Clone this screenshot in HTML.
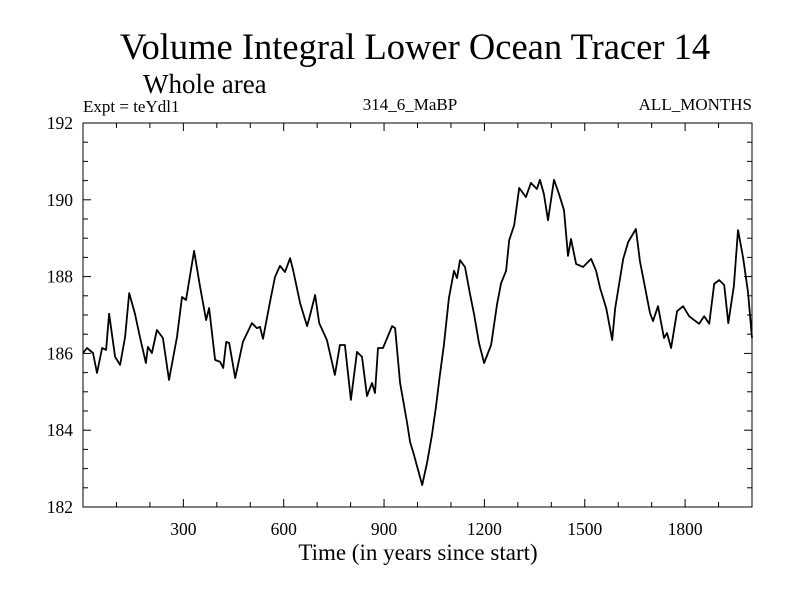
<!DOCTYPE html>
<html><head><meta charset="utf-8"><style>body{margin:0;background:#fff}svg{display:block}text{font-family:"Liberation Serif",serif;fill:#000}</style></head>
<body>
<svg id="c" width="800" height="600">
<text x="415" y="59" font-size="36.5" text-anchor="middle">Volume Integral Lower Ocean Tracer 14</text>
<text x="143" y="93" font-size="27">Whole area</text>
<text x="83" y="112" font-size="17">Expt = teYdl1</text>
<text x="410" y="110" font-size="17" text-anchor="middle">314_6_MaBP</text>
<text x="752" y="110" font-size="17" text-anchor="end">ALL_MONTHS</text>
<text x="418" y="560" font-size="23" text-anchor="middle">Time (in years since start)</text>
<rect x="83" y="123" width="669" height="384" fill="none" stroke="#000" stroke-width="1"/>
<g id="ticks"></g>
<path id="line" fill="none" stroke="#000" stroke-width="1.8" stroke-linejoin="round"/>
</svg>
<script>
const years=[0,12,30,42,57,69,78,96,111,126,138,155,170,188,194,206,221,239,257,281,296,308,332,350,368,377,395,410,419,428,437,455,478,505,520,529,538,559,574,589,604,619,628,649,670,679,694,706,729,753,768,783,801,819,834,849,864,873,882,897,924,933,948,969,978,987,1014,1029,1043,1055,1067,1079,1094,1109,1118,1127,1142,1157,1169,1184,1199,1220,1238,1250,1265,1274,1289,1304,1324,1339,1357,1366,1378,1390,1408,1423,1438,1450,1459,1474,1495,1519,1534,1546,1564,1582,1591,1615,1630,1653,1665,1695,1704,1719,1737,1746,1758,1776,1794,1812,1842,1857,1872,1887,1902,1917,1929,1946,1958,1973,1988,2000];
const values=[186.01,186.14,186.01,185.49,186.14,186.09,187.03,185.91,185.70,186.43,187.57,187.05,186.43,185.75,186.17,186.01,186.61,186.40,185.31,186.43,187.47,187.39,188.67,187.73,186.87,187.18,185.83,185.78,185.62,186.30,186.27,185.36,186.30,186.79,186.66,186.69,186.38,187.34,187.99,188.28,188.12,188.48,188.17,187.31,186.71,187.00,187.52,186.79,186.35,185.44,186.22,186.22,184.79,186.04,185.91,184.89,185.23,184.97,186.14,186.14,186.71,186.66,185.23,184.19,183.69,183.43,182.57,183.17,183.87,184.60,185.44,186.22,187.44,188.15,187.96,188.43,188.25,187.55,187.03,186.27,185.75,186.22,187.29,187.83,188.15,188.95,189.34,190.31,190.07,190.44,190.28,190.52,190.15,189.47,190.52,190.15,189.73,188.54,188.98,188.33,188.25,188.46,188.15,187.70,187.18,186.35,187.18,188.46,188.90,189.24,188.41,187.05,186.84,187.23,186.40,186.53,186.14,187.10,187.23,186.97,186.77,186.97,186.77,187.81,187.91,187.78,186.79,187.76,189.21,188.51,187.6,186.4];
const xTickLabels=[300,600,900,1200,1500,1800];
const yTickLabels=[182,184,186,188,190,192];
const X0=83,X1=752,Y0=507,Y1=123,XMIN=0,XMAX=2000,YMIN=182,YMAX=192;
const sx=v=>X0+(v-XMIN)/(XMAX-XMIN)*(X1-X0);
const sy=v=>Y0-(v-YMIN)/(YMAX-YMIN)*(Y0-Y1);
const NS='http://www.w3.org/2000/svg';
const g=document.getElementById('ticks');
function ln(x1,y1,x2,y2){const l=document.createElementNS(NS,'line');l.setAttribute('x1',x1);l.setAttribute('y1',y1);l.setAttribute('x2',x2);l.setAttribute('y2',y2);l.setAttribute('stroke','#000');


g.appendChild(l);}
for(let v=100;v<XMAX;v+=100){const x=sx(v),L=(v%300===0)?8:5;ln(x,Y0,x,Y0-L);ln(x,Y1,x,Y1+L);}
for(let v=YMIN+0.5;v<YMAX;v+=0.5){const y=sy(v),L=(Math.abs(v%2)<1e-6)?8:5;ln(X0,y,X0+L,y);ln(X1,y,X1-L,y);}
xTickLabels.forEach(v=>{const t=document.createElementNS(NS,'text');t.setAttribute('x',sx(v));t.setAttribute('y',Y0+28);t.setAttribute('font-size','17.5');t.setAttribute('text-anchor','middle');t.textContent=v;


g.appendChild(t);});
yTickLabels.forEach(v=>{const t=document.createElementNS(NS,'text');t.setAttribute('x',X0-10);t.setAttribute('y',sy(v)+6);t.setAttribute('font-size','17.5');t.setAttribute('text-anchor','end');t.textContent=v;


g.appendChild(t);});
document.getElementById('line').setAttribute('d',years.map((y,i)=>(i?'L':'M')+sx(y).toFixed(1)+','+sy(values[i]).toFixed(1)).join(''));
</script>
</body></html>
